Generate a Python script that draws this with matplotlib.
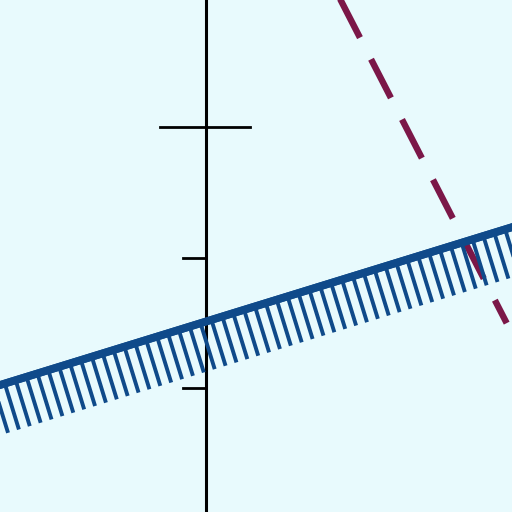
import matplotlib
matplotlib.use("Agg")
import matplotlib.pyplot as plt
import matplotlib.patheffects as pe

# boundary of the shaded inequality (solid, hatched below)
solid_x = [-1.75, 2.50]
solid_y = [0.97, 2.28]

# second boundary (dashed)
dash_x = [0.953, 2.304]
dash_y = [4.126, 1.497]

# marks on the y axis
tick_y = [1, 2, 3]
long_tick = 3

bg = "#e8fafd"
blue = "#0f4a8a"
maroon = "#7b1748"

fig = plt.figure(figsize=(5.12, 5.12), dpi=100)
fig.patch.set_facecolor(bg)
ax = fig.add_axes([0, 0, 1, 1])
ax.set_facecolor(bg)

unit = 130.5
ax.set_xlim(-206 / unit, (512 - 206) / unit)
ax.set_ylim((518.5 - 512) / unit, 518.5 / unit)

# y axis
ax.axvline(0, color="black", lw=2.2, zorder=2)
for t in tick_y:
    if t == long_tick:
        ax.plot([-46 / unit, 44 / unit], [t, t], color="black", lw=2.0, zorder=2)
    else:
        ax.plot([-23 / unit, 0], [t, t], color="black", lw=2.0, zorder=2)

# dashed boundary
ax.plot(dash_x, dash_y, color=maroon, lw=4.6, dashes=(6.8, 3.8),
        solid_capstyle="butt", dash_capstyle="butt", zorder=3)

# solid boundary with ticks on the shaded side
ax.plot(solid_x, solid_y, color=blue, lw=5.6, zorder=4,
        path_effects=[pe.withTickedStroke(angle=-90, spacing=8.1, length=4.1,
                                          linewidth=2.8, foreground=blue),
                      pe.Normal()])

ax.axis("off")
fig.savefig("out.png", dpi=100, facecolor=bg)
